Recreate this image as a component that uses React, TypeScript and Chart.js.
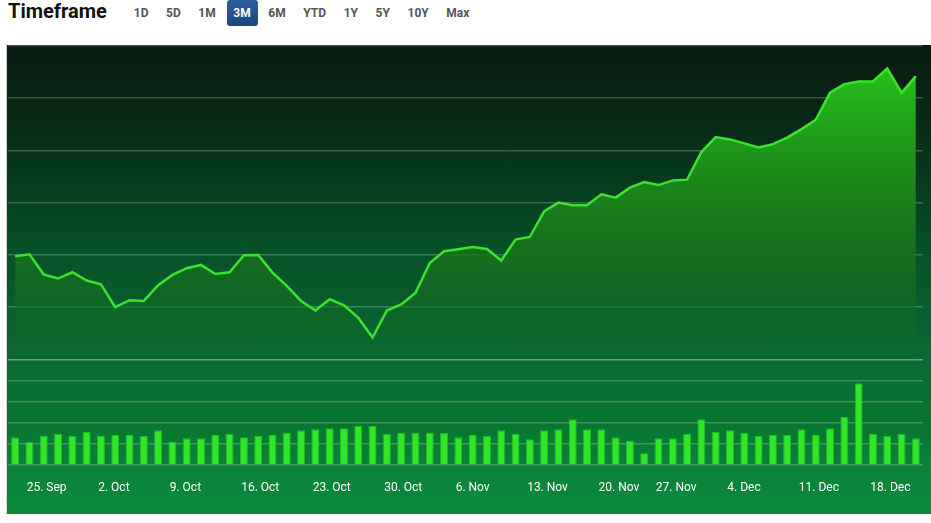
import React, { useEffect, useRef } from 'react';
import { Chart, registerables } from 'chart.js';

Chart.register(...registerables);

const categories = [
  '21. Sep', '22. Sep', '25. Sep', '26. Sep', '27. Sep', '28. Sep', '29. Sep',
  '2. Oct', '3. Oct', '4. Oct', '5. Oct', '6. Oct',
  '9. Oct', '10. Oct', '11. Oct', '12. Oct', '13. Oct',
  '16. Oct', '17. Oct', '18. Oct', '19. Oct', '20. Oct',
  '23. Oct', '24. Oct', '25. Oct', '26. Oct', '27. Oct',
  '30. Oct', '31. Oct', '1. Nov', '2. Nov', '3. Nov',
  '6. Nov', '7. Nov', '8. Nov', '9. Nov', '10. Nov',
  '13. Nov', '14. Nov', '15. Nov', '16. Nov', '17. Nov',
  '20. Nov', '21. Nov', '22. Nov', '24. Nov',
  '27. Nov', '28. Nov', '29. Nov', '30. Nov', '1. Dec',
  '4. Dec', '5. Dec', '6. Dec', '7. Dec', '8. Dec',
  '11. Dec', '12. Dec', '13. Dec', '14. Dec', '15. Dec',
  '18. Dec', '19. Dec', '20. Dec',
];

const tickLabels = [
  '25. Sep', '2. Oct', '9. Oct', '16. Oct', '23. Oct', '30. Oct', '6. Nov',
  '13. Nov', '20. Nov', '27. Nov', '4. Dec', '11. Dec', '18. Dec',
];

const closePrices = [
  179.75, 180.13, 176.25, 175.49, 176.69, 175.11, 174.4, 170.0, 171.34, 171.2,
  174.21, 176.18, 177.46, 178.09, 176.37, 176.69, 179.94, 180.0, 176.63, 174.07,
  171.2, 169.37, 171.53, 170.38, 167.95, 164.21, 169.37, 170.52, 172.73, 178.47,
  180.71, 181.09, 181.53, 181.15, 178.93, 182.94, 183.44, 188.36, 190.02, 189.5,
  189.5, 191.61, 190.98, 192.89, 193.96, 193.38, 194.28, 194.42, 199.69, 202.56,
  202.12, 201.36, 200.59, 201.22, 202.45, 204.09, 205.89, 211.05, 212.7, 213.21,
  213.21, 215.7, 211.05, 214.23,
];

const volumes = [
  26.3, 22.1, 27.5, 29.7, 27.5, 31.6, 27.5, 28.4, 28.4, 27.5,
  32.9, 22.1, 25.3, 25.3, 28.4, 29.7, 26.3, 27.5, 28.4, 30.6,
  32.9, 33.8, 34.8, 34.8, 37.0, 37.0, 29.7, 30.6, 30.6, 30.6,
  30.6, 26.3, 28.4, 27.5, 32.9, 29.7, 24.4, 32.9, 33.8, 43.3,
  33.8, 33.8, 26.3, 23.0, 11.1, 25.3, 25.3, 29.7, 43.3, 31.6,
  32.9, 30.6, 27.5, 28.4, 28.4, 33.8, 28.4, 34.8, 45.5, 77.4,
  29.7, 27.5, 29.7, 25.3,
];

const priceTicks = { min: 160, max: 220, step: 10 };
const volumeTicks = { min: 0, max: 100, step: 20 };

const timeframes = ['1D', '5D', '1M', '3M', '6M', 'YTD', '1Y', '5Y', '10Y', 'Max'];
const selectedTimeframe = '3M';

const FONT = 'Roboto, "Noto Sans", Arial, sans-serif';

function PriceChart() {
  const ref = useRef<HTMLCanvasElement | null>(null);

  useEffect(() => {
    if (!ref.current) return;
    Chart.defaults.font.family = FONT;
    const gridColor = 'rgba(255,255,255,0.22)';
    const zeroWidth = (s: any) => {
      s.width = 0;
    };
    const chart = new Chart(ref.current, {
      data: {
        labels: categories,
        datasets: [
          {
            type: 'line',
            data: closePrices,
            yAxisID: 'price',
            borderColor: '#3ae32d',
            borderWidth: 2.5,
            pointRadius: 0,
            tension: 0,
            fill: 'start',
            order: 1,
            backgroundColor: (ctx: any) => {
              const c = ctx.chart;
              const s = c.scales && c.scales.price;
              if (!c.chartArea || !s || !Number.isFinite(s.top) || !Number.isFinite(s.bottom) || s.bottom <= s.top) {
                return 'rgba(30,150,25,0.8)';
              }
              const g = c.ctx.createLinearGradient(0, s.top, 0, s.bottom);
              g.addColorStop(0, 'rgba(38,206,25,1)');
              g.addColorStop(0.35, 'rgba(30,150,26,0.96)');
              g.addColorStop(0.65, 'rgba(26,114,28,0.9)');
              g.addColorStop(1, 'rgba(14,104,40,0.3)');
              return g;
            },
          } as any,
          {
            type: 'bar',
            data: volumes,
            yAxisID: 'volume',
            backgroundColor: '#31e52b',
            borderColor: '#25b925',
            borderWidth: 1,
            barPercentage: 0.56,
            categoryPercentage: 1,
            order: 2,
          } as any,
        ],
      },
      options: {
        animation: false,
        responsive: false,
        maintainAspectRatio: false,
        layout: { padding: { left: 1, right: 8, top: 1, bottom: 18 } },
        plugins: { legend: { display: false }, tooltip: { enabled: false } },
        scales: {
          x: {
            type: 'category',
            offset: true,
            grid: { display: false, drawTicks: true, tickLength: 16 },
            border: { display: false },
            afterFit: (s: any) => {
              s.height = 31;
            },
            ticks: {
              autoSkip: false,
              maxRotation: 0,
              minRotation: 0,
              align: 'start',
              labelOffset: -17,
              padding: 0,
              color: '#ffffff',
              font: { size: 12, family: FONT },
              callback: (_v: any, i: number) =>
                tickLabels.includes(categories[i]) ? categories[i] : '',
            },
          },
          volume: {
            type: 'linear',
            position: 'left',
            stack: 'panes',
            stackWeight: 1,
            min: volumeTicks.min,
            max: volumeTicks.max,
            afterFit: zeroWidth,
            ticks: { display: false, stepSize: volumeTicks.step },
            grid: { color: gridColor, lineWidth: 1.5, drawTicks: false },
            border: { display: false },
          },
          price: {
            type: 'linear',
            position: 'left',
            stack: 'panes',
            stackWeight: 2.97,
            min: priceTicks.min,
            max: priceTicks.max,
            afterFit: zeroWidth,
            ticks: { display: false, stepSize: priceTicks.step },
            grid: { color: gridColor, lineWidth: 1.5, drawTicks: false },
            border: { display: false },
          },
        },
      } as any,
    });
    return () => chart.destroy();
  }, []);

  return (
    <canvas
      ref={ref}
      width={924}
      height={469}
      style={{
        display: 'block',
        width: 924,
        height: 469,
        background:
          'linear-gradient(to bottom, #081a10 0%, #072815 15%, #063a1c 28%, #064f25 42%, #0a6a33 67%, #08752f 80%, #0a823a 90%, #0b8b3c 100%)',
      }}
    />
  );
}

export default function App() {
  return (
    <div
      style={{
        position: 'absolute',
        left: 0,
        top: 0,
        width: 931,
        height: 523,
        background: '#ffffff',
        fontFamily: FONT,
        overflow: 'hidden',
      }}
    >
      <div
        style={{
          position: 'absolute',
          left: 8,
          top: -2,
          fontSize: 20,
          fontWeight: 700,
          lineHeight: '26px',
          color: '#111111',
        }}
      >
        Timeframe
      </div>
      <div style={{ position: 'absolute', left: 127, top: 0, display: 'flex', gap: 4 }}>
        {timeframes.map((t) => {
          const sel = t === selectedTimeframe;
          return (
            <div
              key={t}
              style={{
                padding: '0 6.8px',
                height: 26,
                lineHeight: '26px',
                fontSize: 12,
                fontWeight: 700,
                color: sel ? '#ffffff' : '#555555',
                background: sel ? 'linear-gradient(to bottom, #2a5f9e, #164781)' : 'transparent',
                borderRadius: 3,
              }}
            >
              {t}
            </div>
          );
        })}
      </div>
      <div
        style={{
          position: 'absolute',
          left: 6,
          top: 45,
          borderLeft: '1px solid #d4d4d4',
        }}
      >
        <PriceChart />
      </div>
    </div>
  );
}
